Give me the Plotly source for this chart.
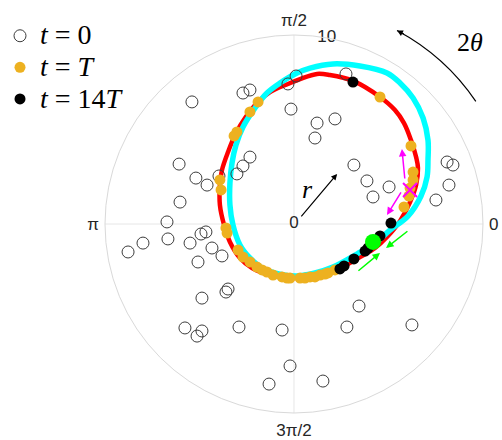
import numpy as np
import plotly.graph_objects as go

# ---- data: Cartesian components (in units of r) ----
red_x = [6.56, 6.46, 6.19, 5.82, 5.34, 4.55, 3.12, 1.90, 1.22, 0.32, -0.32, -1.27, -1.90, -2.59, -3.07, -3.49,
         -3.81, -3.92, -3.92, -3.70, -3.39, -2.86, -2.22, -1.27, -0.05, 1.11, 2.06, 2.86, 3.49, 4.29, 4.92, 5.61,
         6.14, 6.46, 6.56]
red_y = [2.96, 3.54, 4.44, 5.34, 6.03, 6.72, 7.57, 7.88, 7.94, 7.67, 7.41, 6.98, 6.46, 5.61, 4.81, 3.81,
         2.86, 2.06, 1.01, -0.05, -0.95, -1.80, -2.33, -2.70, -2.86, -2.75, -2.43, -2.12, -1.75, -1.27, -0.69, 0.16,
         1.16, 2.06, 2.96]

cyan_x = [7.09, 7.09, 6.83, 6.30, 5.61, 4.92, 3.49, 2.06, 0.85, 0.16, -0.74, -1.43, -2.06, -2.70, -3.07, -3.28,
          -3.39, -3.39, -3.23, -2.86, -2.33, -1.69, -0.74, 0.16, 1.11, 2.06, 3.33, 4.29, 5.08, 6.03, 6.72, 7.04, 7.09]
cyan_y = [3.39, 4.44, 5.61, 6.67, 7.46, 7.99, 8.36, 8.47, 8.25, 7.99, 7.46, 6.93, 6.14, 5.13, 4.18, 3.23,
          2.17, 1.01, -0.05, -1.11, -1.80, -2.33, -2.65, -2.75, -2.59, -2.28, -1.59, -1.01, -0.32, 0.42, 1.48, 2.49, 3.39]

t0_x = [0.11, -0.32, 2.75, -2.70, -2.33, -0.16, 1.22, 2.17, 1.11, 3.17, -2.33, -2.70, -5.40, -6.08, -5.19,
        -4.60, -3.97, -3.02, -6.03, -6.72, -6.67, -7.99, -8.78, -5.50, -4.92, -4.66, -4.34, -3.81, -5.08, -4.87,
        -3.60, -3.49, -5.77, -4.87, -5.13, -2.91, -0.63, -0.21, -1.32, 1.53, 2.80, 3.44, 6.24, 3.86, 4.18,
        5.03, 7.51, 8.20, 8.10, 8.41]
t0_y = [7.83, 7.41, 7.94, 6.93, 7.09, 6.08, 5.34, 5.56, 4.55, 3.12, 3.54, 3.07, 6.46, 3.17, 2.43,
        2.06, 2.54, 2.65, 1.16, 0.11, -0.79, -1.01, -1.48, -1.01, -0.53, -0.42, -1.27, -1.69, -2.01, -3.92,
        -3.60, -3.44, -5.50, -5.66, -5.93, -5.45, -5.61, -7.51, -8.47, -8.31, -5.45, -4.34, -5.34, 2.28, 1.43,
        1.96, 1.27, 2.06, 3.28, 3.12]

tT_x = [-1.90, -2.33, -3.02, -3.17, 4.55, 6.19, 6.30, 6.30, 6.14, 6.08, 5.82, -3.92, -3.86, -3.60, -3.54,
        -2.96, -2.70, -2.33, -1.96, -1.69, -1.43, -1.11, -0.63, -0.37, -0.21, 0.32, 0.58, 0.85, 1.11, 1.38,
        1.64, 1.80, 2.17]
tT_y = [6.46, 5.93, 4.87, 4.66, 6.72, 4.13, 2.75, 2.33, 1.90, 1.48, 0.90, 2.33, 1.80, -0.21, -0.48,
        -1.38, -1.75, -2.01, -2.28, -2.43, -2.54, -2.70, -2.80, -2.86, -2.86, -2.86, -2.86, -2.80, -2.80, -2.70,
        -2.65, -2.59, -2.43]

t14_x = [3.12, 5.13, 4.55, 3.92, 3.76, 3.17, 2.65, 2.43]
t14_y = [7.51, 0.05, -0.63, -1.27, -1.43, -1.85, -2.22, -2.38]

green_x = [4.18]
green_y = [-0.95]
cross_x = [6.14]
cross_y = [1.80]

angle_ticks = [0, 90, 180, 270]
angle_labels = ['0', 'π/2', 'π', '3π/2']
r_ticks = [0, 10]
r_labels = ['0', '10']
r_label_angle = 80


def to_polar(x, y):
    x = np.asarray(x, float)
    y = np.asarray(y, float)
    return np.hypot(x, y), np.degrees(np.arctan2(y, x)) % 360


def big(s):
    return '<span style="font-size:28px">' + s + '</span>'


fig = go.Figure()

r, th = to_polar(red_x, red_y)
fig.add_trace(go.Scatterpolar(r=r, theta=th, mode='lines', showlegend=False, hoverinfo='skip',
                              line=dict(color='#ff0000', width=4.5, shape='spline', smoothing=1)))
r, th = to_polar(cyan_x, cyan_y)
fig.add_trace(go.Scatterpolar(r=r, theta=th, mode='lines', showlegend=False, hoverinfo='skip',
                              line=dict(color='#00ffff', width=5.5, shape='spline', smoothing=1)))
r, th = to_polar(t0_x, t0_y)
fig.add_trace(go.Scatterpolar(r=r, theta=th, mode='markers', name=big('<i>t</i> = 0'),
                              marker=dict(symbol='circle-open', size=12, color='#3c3c3c', line=dict(width=1))))
r, th = to_polar(tT_x, tT_y)
fig.add_trace(go.Scatterpolar(r=r, theta=th, mode='markers', name=big('<i>t</i> = <i>T</i>'),
                              marker=dict(symbol='circle', size=11, color='#EDB120')))
r, th = to_polar(t14_x, t14_y)
fig.add_trace(go.Scatterpolar(r=r, theta=th, mode='markers', name=big('<i>t</i> = 14<i>T</i>'),
                              marker=dict(symbol='circle', size=11, color='#000000')))
r, th = to_polar(green_x, green_y)
fig.add_trace(go.Scatterpolar(r=r, theta=th, mode='markers', showlegend=False,
                              marker=dict(symbol='circle', size=16, color='#00ff00')))
r, th = to_polar(cross_x, cross_y)
fig.add_trace(go.Scatterpolar(r=r, theta=th, mode='markers', showlegend=False,
                              marker=dict(symbol='x-thin-open', size=14, color='#ff00ff', line=dict(width=2, color='#ff00ff'))))

serif = 'Liberation Serif'
sans = 'Liberation Sans'

# radial tick labels, placed at their tick values along the 80 degree direction
fig.add_trace(go.Scatterpolar(r=r_ticks, theta=[r_label_angle] * len(r_ticks), mode='text', text=r_labels,
                              textposition='middle center', cliponaxis=False, showlegend=False, hoverinfo='skip',
                              textfont=dict(family=sans, size=17, color='#262626')))

# hidden cartesian overlay (same units as r) for the annotation arrows
fig.add_trace(go.Scatter(x=[None], y=[None], showlegend=False, hoverinfo='skip', xaxis='x', yaxis='y'))


def arrow(x, y, ax, ay, color, width=1.5):
    return dict(x=x, y=y, ax=ax, ay=ay, xref='x', yref='y', axref='x', ayref='y', text='',
                showarrow=True, arrowhead=2, arrowsize=1, arrowwidth=width, arrowcolor=color, standoff=0)


annotations = [
    arrow(2.28, 2.65, 0.32, 0.32, 'black', 1.2),
    arrow(5.71, 3.97, 5.87, 2.33, '#ff00ff'),
    arrow(4.92, 0.48, 5.71, 1.75, '#ff00ff'),
    arrow(4.87, -1.27, 6.08, -0.32, '#00ff00'),
    arrow(4.55, -1.53, 3.33, -2.54, '#00ff00'),
    arrow(5.45, 10.24, 5.89, 10.01, 'black', 1.2),
    dict(x=0.69, y=1.85, xref='x', yref='y', text='<i>r</i>', showarrow=False,
         font=dict(family=serif, size=26, color='black')),
    dict(x=9.31, y=9.58, xref='x', yref='y', text='2<i>θ</i>', showarrow=False,
         font=dict(family=serif, size=26, color='black')),
]

fig.update_layout(
    width=502, height=440,
    margin=dict(l=0, r=0, t=0, b=0),
    paper_bgcolor='white', plot_bgcolor='rgba(0,0,0,0)',
    showlegend=True,
    legend=dict(x=0.0, y=0.966, xanchor='left', yanchor='top', bgcolor='rgba(0,0,0,0)',
                font=dict(family=serif, size=22, color='black'), tracegroupgap=0),
    xaxis=dict(domain=[0, 1], range=[-15.556, 11.005], visible=False, fixedrange=True),
    yaxis=dict(domain=[0, 1], range=[-11.429, 11.852], visible=False, fixedrange=True),
    polar=dict(
        domain=dict(x=[0.20916, 0.96215], y=[0.06136, 0.92045]),
        bgcolor='white',
        radialaxis=dict(range=[0, 10], tickvals=r_ticks, angle=80, showticklabels=False,
                        showline=False, showgrid=True, gridcolor='#d9d9d9', ticks=''),
        angularaxis=dict(tickvals=angle_ticks, ticktext=angle_labels, rotation=0, direction='counterclockwise',
                         showline=True, linecolor='#d9d9d9', linewidth=1, gridcolor='#e6e6e6',
                         ticks='outside', ticklen=2, tickcolor='rgba(0,0,0,0)',
                         tickfont=dict(family=sans, size=17, color='#262626')),
    ),
    shapes=[dict(type='path', path='M 9.62,6.49 Q 8.0,8.88 5.45,10.24', xref='x', yref='y',
                 line=dict(color='black', width=1.2))],
    annotations=annotations,
)

fig.write_html('out.html', post_script="document.body.style.margin='0px';",
               config={'displayModeBar': False})
